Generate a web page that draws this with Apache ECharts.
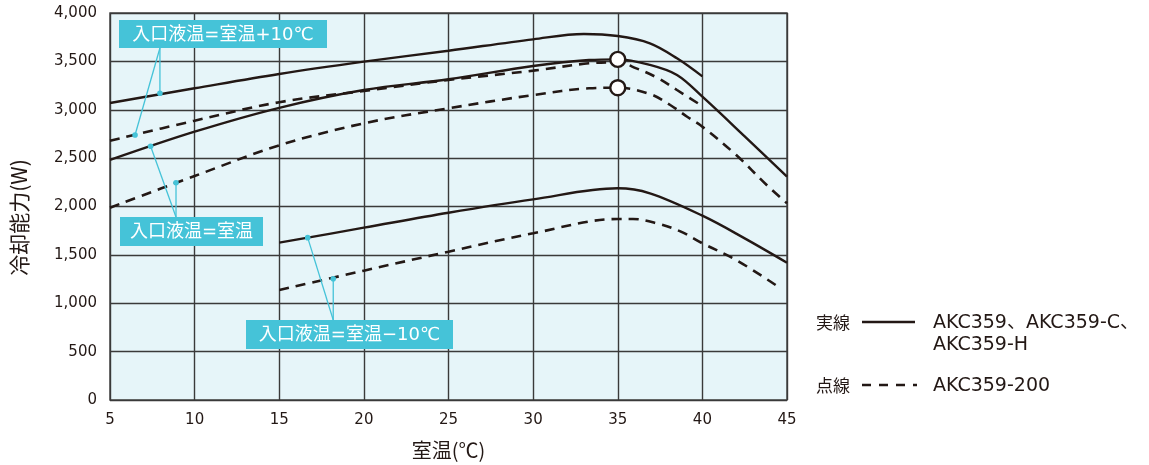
<!DOCTYPE html>
<html>
<head>
<meta charset="utf-8">
<script src="https://cdn.jsdelivr.net/npm/echarts@6/dist/echarts.min.js"></script>
<style>
  html, body { margin: 0; padding: 0; background: #fff; }
  #chart { width: 1149px; height: 465px; }
</style>
</head>
<body>
<div id="chart"></div>
<script>
// room temperature (x) and cooling capacity (W)
const xPlus10Solid = [5, 10, 15, 20, 25, 30, 33, 35, 36.9, 38.5, 40];
const yPlus10Solid = [3070, 3222, 3370, 3497, 3610, 3728, 3783, 3762, 3687, 3532, 3345];

const xEqualSolid = [5, 10, 15, 20, 25, 30, 33.3, 35, 36.9, 38.5, 40, 42.5, 45];
const yEqualSolid = [2481, 2773, 3020, 3204, 3315, 3452, 3514, 3521, 3463, 3359, 3135, 2725, 2308];

const xPlus10Dash = [5, 10, 15, 20, 25, 30, 33.3, 35, 36.1, 37.4, 38.5, 39.8];
const yPlus10Dash = [2680, 2887, 3078, 3194, 3308, 3404, 3480, 3490, 3428, 3325, 3204, 3060];

const xEqualDash = [5, 10, 15, 20, 25, 30, 33.3, 35, 36.9, 38.1, 39.1, 40, 42, 43.8, 45];
const yEqualDash = [1988, 2315, 2632, 2860, 3015, 3152, 3222, 3228, 3163, 3049, 2928, 2825, 2532, 2222, 2033];

const xMinus10Solid = [15, 20, 25, 30, 35, 36.9, 40, 42.5, 45];
const yMinus10Solid = [1626, 1781, 1936, 2074, 2188, 2136, 1905, 1671, 1419];

const xMinus10Dash = [15, 20, 25, 30, 35, 35.9, 37.3, 38.7, 40, 42, 44.4];
const yMinus10Dash = [1137, 1337, 1533, 1723, 1871, 1871, 1826, 1743, 1620, 1447, 1180];

// open circles at 35°C
const ratedPoints = [[35, 3521], [35, 3228]];

// leader dot anchors on the curves
const dotPlus10Solid = [7.95, 3170];
const dotPlus10Dash = [6.48, 2739];
const dotEqualSolid = [7.4, 2622];
const dotEqualDash = [8.9, 2246];
const dotMinus10Solid = [16.68, 1678];
const dotMinus10Dash = [18.19, 1254];

const labelPlus10 = "入口液温=室温+10℃";
const labelEqual = "入口液温=室温";
const labelMinus10 = "入口液温=室温−10℃";

const xTicks = [5, 10, 15, 20, 25, 30, 35, 40, 45];
const yTicks = [0, 500, 1000, 1500, 2000, 2500, 3000, 3500, 4000];

const ink = "#231815";
const teal = "#45c3d8";
const jp = "'Noto Sans CJK JP', sans-serif";
const num = "'DejaVu Sans', 'Noto Sans CJK JP', sans-serif";

const zip = (xs, ys) => xs.map((x, i) => [x, ys[i]]);

function line(xs, ys, dashed) {
  return {
    type: "line",
    data: zip(xs, ys),
    symbol: "none",
    smooth: 0.35,
    lineStyle: {
      color: ink,
      width: dashed ? 2.6 : 2.4,
      type: dashed ? [10, 7] : "solid",
    },
    z: 3,
  };
}

const chart = echarts.init(document.getElementById("chart"));

chart.setOption({
  animation: false,
  grid: {
    left: 110,
    right: 362,
    top: 13,
    bottom: 65,
    outerBoundsMode: "none",
    containLabel: false,
    show: true,
    backgroundColor: "#e6f5f9",
    borderColor: "#4a4a4a",
    borderWidth: 1.5,
  },
  xAxis: {
    type: "value",
    min: 5,
    max: 45,
    interval: 5,
    name: "室温(℃)",
    nameLocation: "middle",
    nameGap: 40,
    nameTextStyle: { color: ink, fontSize: 20, fontFamily: jp },
    axisLine: { show: false },
    axisTick: { show: false },
    axisLabel: {
      color: ink,
      fontSize: 15,
      fontFamily: num,
      margin: 13,
      customValues: xTicks,
    },
    splitLine: { lineStyle: { color: "#3a3a3a", width: 1.4 } },
  },
  yAxis: {
    type: "value",
    min: 0,
    max: 4000,
    interval: 500,
    name: "冷却能力(W)",
    nameLocation: "middle",
    nameGap: 80,
    nameRotate: 90,
    nameTextStyle: { color: ink, fontSize: 21, fontFamily: jp, padding: [0, 22, 0, 0] },
    axisLine: { show: false },
    axisTick: { show: false },
    axisLabel: {
      color: ink,
      fontSize: 15,
      fontFamily: num,
      margin: 13,
      customValues: yTicks,
      formatter: (v) => v.toLocaleString("en-US"),
    },
    splitLine: { lineStyle: { color: "#3a3a3a", width: 1.4 } },
  },
  series: [
    line(xPlus10Solid, yPlus10Solid, false),
    line(xEqualSolid, yEqualSolid, false),
    line(xPlus10Dash, yPlus10Dash, true),
    line(xEqualDash, yEqualDash, true),
    line(xMinus10Solid, yMinus10Solid, false),
    line(xMinus10Dash, yMinus10Dash, true),
    {
      type: "scatter",
      data: ratedPoints,
      symbol: "circle",
      symbolSize: 15,
      itemStyle: { color: "#ffffff", opacity: 1, borderColor: ink, borderWidth: 2.4 },
      emphasis: { disabled: true },
      z: 5,
    },
  ],
});

// annotation boxes with leader lines, placed from data anchors
function px(p) {
  return chart.convertToPixel({ gridIndex: 0 }, p);
}

function labelBox(text, x, y, w, h) {
  return {
    type: "group",
    children: [
      { type: "rect", shape: { x: x, y: y, width: w, height: h }, style: { fill: teal }, z: 10 },
      {
        type: "text",
        x: x + w / 2,
        y: y + h / 2 + 1,
        style: {
          text: text,
          fill: "#fff",
          font: "18px " + num,
          align: "center",
          verticalAlign: "middle",
        },
        z: 11,
      },
    ],
  };
}

function leader(from, dotData) {
  const d = px(dotData);
  return [
    {
      type: "line",
      shape: { x1: from[0], y1: from[1], x2: d[0], y2: d[1] },
      style: { stroke: teal, lineWidth: 1.3 },
      z: 9,
    },
    { type: "circle", shape: { cx: d[0], cy: d[1], r: 2.8 }, style: { fill: teal }, z: 9 },
  ];
}

const aTop = px(dotPlus10Solid);
const bBot = px(dotEqualDash);
const cBot = px(dotMinus10Dash);

const jpFont = "17px " + jp;
const latinFont = "19px " + num;

chart.setOption({
  graphic: [
    ...leader([aTop[0], 48], dotPlus10Solid),
    ...leader([aTop[0], 48], dotPlus10Dash),
    labelBox(labelPlus10, 119, 20, 208, 28),

    ...leader([bBot[0], 217], dotEqualSolid),
    ...leader([bBot[0], 217], dotEqualDash),
    labelBox(labelEqual, 120, 217, 143, 29),

    ...leader([cBot[0], 320], dotMinus10Solid),
    ...leader([cBot[0], 320], dotMinus10Dash),
    labelBox(labelMinus10, 246, 320, 207, 29),

    // legend
    { type: "text", x: 816, y: 323, style: { text: "実線", fill: ink, font: jpFont, verticalAlign: "middle" } },
    { type: "line", shape: { x1: 862, y1: 322, x2: 915, y2: 322 }, style: { stroke: ink, lineWidth: 2.4 } },
    { type: "text", x: 933, y: 323, style: { text: "AKC359、AKC359-C、", fill: ink, font: latinFont, verticalAlign: "middle" } },
    { type: "text", x: 933, y: 345, style: { text: "AKC359-H", fill: ink, font: latinFont, verticalAlign: "middle" } },
    { type: "text", x: 816, y: 386, style: { text: "点線", fill: ink, font: jpFont, verticalAlign: "middle" } },
    { type: "line", shape: { x1: 862, y1: 385, x2: 917, y2: 385 }, style: { stroke: ink, lineWidth: 2.4, lineDash: [9, 8] } },
    { type: "text", x: 933, y: 386, style: { text: "AKC359-200", fill: ink, font: latinFont, verticalAlign: "middle" } },
  ],
});
</script>
</body>
</html>
